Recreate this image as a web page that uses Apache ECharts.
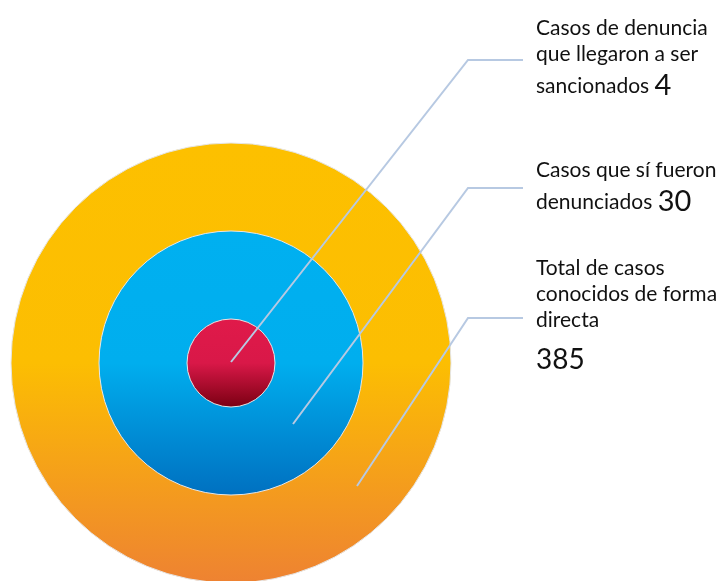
<!DOCTYPE html>
<html>
<head>
<meta charset="utf-8">
<script src="https://cdn.jsdelivr.net/npm/echarts@6/dist/echarts.min.js"></script>
<style>
  html, body { margin: 0; padding: 0; background: #fff; }
  #chart { width: 726px; height: 581px; }
</style>
</head>
<body>
<div id="chart"></div>
<script>
// outer -> inner
const categories = [
  'Total de casos\nconocidos de forma\ndirecta',
  'Casos que sí fueron\ndenunciados',
  'Casos de denuncia\nque llegaron a ser\nsancionados'
];
const values = [385, 30, 4];

const radii = [220, 132, 44];
const gradients = [
  ['#FDC000', '#FCBE02', '#EE8232'],
  ['#00B0F0', '#00AEEE', '#0070C0'],
  ['#E01A4A', '#D91848', '#7A0012']
];
// label line: start point inside the circle, kink, end; label top
const leaders = [
  { pts: [[357, 486], [468, 318], [523, 318]], top: 255 },
  { pts: [[293, 424], [468, 188], [523, 188]], top: 157 },
  { pts: [[231, 362], [468, 60], [523, 60]], top: 15 }
];

const chart = echarts.init(document.getElementById('chart'), null, { renderer: 'canvas' });

// filled circles
const discs = values.map((v, i) => ({
  type: 'pie',
  center: [231, 363],
  radius: radii[i],
  silent: true,
  animation: false,
  z: i + 1,
  label: { show: false },
  labelLine: { show: false },
  itemStyle: {
    borderColor: '#e6e6e6',
    borderWidth: 1,
    color: new echarts.graphic.LinearGradient(0, 0, 0, 1, [
      { offset: 0, color: gradients[i][0] },
      { offset: 0.5, color: gradients[i][1] },
      { offset: 1, color: gradients[i][2] }
    ])
  },
  data: [{ name: categories[i], value: v }]
}));

// transparent copies on top carrying the labels and leader lines
const labels = values.map((v, i) => ({
  type: 'pie',
  center: [231, 363],
  radius: radii[i],
  silent: true,
  animation: false,
  avoidLabelOverlap: false,
  z: 10 + i,
  itemStyle: { color: 'rgba(0,0,0,0)', borderWidth: 0 },
  label: {
    show: true,
    position: 'outside',
    fontFamily: 'Lato',
    color: '#111',
    formatter: p => i === 0
      ? '{t|' + p.name + '}\n{big|' + p.value + '}'
      : '{t|' + p.name + ' }{num|' + p.value + '}',
    rich: {
      t: { fontFamily: 'Lato', fontSize: 21, lineHeight: 26, color: '#111' },
      num: { fontFamily: 'Lato', fontSize: 29, lineHeight: 38, color: '#111' },
      big: { fontFamily: 'Lato', fontSize: 28, lineHeight: 54, color: '#111' }
    }
  },
  labelLine: {
    show: true,
    lineStyle: { color: '#B7C9E2', width: 2 }
  },
  labelLayout: () => ({
    x: 536,
    y: leaders[i].top,
    align: 'left',
    verticalAlign: 'top',
    labelLinePoints: leaders[i].pts
  }),
  data: [{ name: categories[i], value: v }]
}));

chart.setOption({
  backgroundColor: '#fff',
  series: discs.concat(labels)
});
</script>
</body>
</html>
